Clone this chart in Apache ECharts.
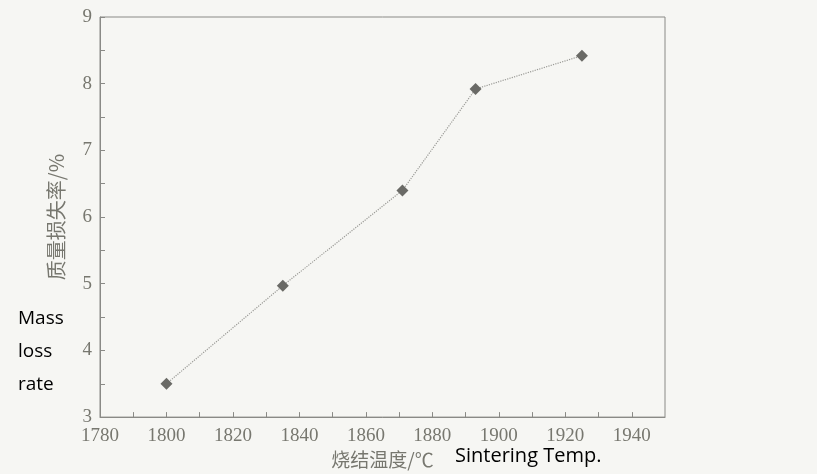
<!DOCTYPE html>
<html><head><meta charset="utf-8">
<script src="https://cdn.jsdelivr.net/npm/echarts@6/dist/echarts.min.js"></script>
<style>html,body{margin:0;padding:0;background:#f6f6f3}#c{width:817px;height:474px}</style>
</head><body><div id="c"></div>
<script>
const temperatures = [1800, 1835, 1871, 1893, 1925];
const massLoss = [3.5, 4.97, 6.4, 7.92, 8.42];
const xTitle = '烧结温度/℃';
const yTitle = '质量损失率/%';
const yNote = ['Mass', 'loss', 'rate'];
const xNote = 'Sintering Temp.';

const chart = echarts.init(document.getElementById('c'));
const axisGray = '#8a8a86';
const labelGray = '#77776f';
chart.setOption({
  backgroundColor: '#f6f6f3',
  animation: false,
  grid: { left: 100, top: 17, width: 565, bottom: 44, show: true, borderColor: axisGray, borderWidth: 1, backgroundColor: 'transparent' },
  xAxis: {
    type: 'value', min: 1780, max: 1950, interval: 10,
    name: xTitle, nameLocation: 'middle', nameGap: 32,
    nameTextStyle: { fontFamily: 'Noto Sans CJK SC', fontSize: 19, color: labelGray },
    axisLine: { show: true, lineStyle: { color: axisGray } },
    axisTick: { show: true, inside: true, length: 5, lineStyle: { color: axisGray } },
    axisLabel: { fontFamily: 'Liberation Serif', fontSize: 19, color: labelGray, margin: 9, showMaxLabel: false,
      formatter: v => (v % 20 === 0 && v <= 1940) ? String(v) : '' },
    splitLine: { show: false }
  },
  yAxis: {
    type: 'value', min: 3, max: 9, interval: 0.5,
    name: yTitle, nameLocation: 'middle', nameGap: 34, nameRotate: 90,
    nameTextStyle: { fontFamily: 'Noto Sans CJK SC', fontSize: 20, color: labelGray },
    axisLine: { show: true, lineStyle: { color: axisGray } },
    axisTick: { show: true, inside: true, length: 5, lineStyle: { color: axisGray } },
    axisLabel: { fontFamily: 'Liberation Serif', fontSize: 19, color: labelGray, margin: 8,
      formatter: v => Number.isInteger(v) ? String(v) : '' },
    splitLine: { show: false }
  },
  series: [{
    type: 'line',
    data: temperatures.map((t, i) => [t, massLoss[i]]),
    symbol: 'diamond', symbolSize: 12,
    itemStyle: { color: '#6a6a66' },
    lineStyle: { color: '#9a9a96', width: 1.2, type: 'dotted' }
  }],
  graphic: [
    ...yNote.map((s, i) => ({ type: 'text', left: 18, top: 309 + i * 33, style: { text: s, font: '19px "Open Sans", sans-serif', fill: '#000' } })),
    { type: 'text', left: 455, top: 446, style: { text: xNote, font: '20px "Open Sans", sans-serif', fill: '#000' } }
  ]
});
</script></body></html>
